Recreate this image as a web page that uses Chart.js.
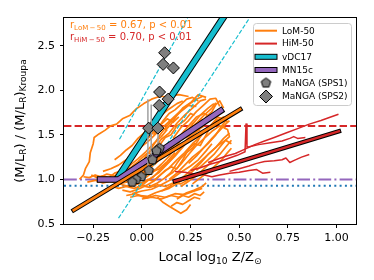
<!DOCTYPE html>
<html>
<head>
<meta charset="utf-8">
<script src="https://cdn.jsdelivr.net/npm/chart.js@4.4.0/dist/chart.umd.min.js"></script>
<style>
  html, body { margin: 0; padding: 0; background: #fff; }
  #wrap { width: 374px; height: 280px; }
</style>
</head>
<body>
<div id="wrap"><canvas id="mlChart" width="374" height="280"></canvas></div>
<script>
// axis ticks
const xTicks = [-0.25, 0, 0.25, 0.5, 0.75, 1.0];
const yTicks = [0.5, 1.0, 1.5, 2.0, 2.5];

// MaNGA points
const sps1X = [0.091, 0.075, 0.054, 0.036, -0.003, -0.03, -0.05];
const sps1Y = [1.35, 1.32, 1.22, 1.10, 1.03, 1.00, 0.97];
const sps2X = [0.117, 0.109, 0.162, 0.091, 0.135, 0.089, 0.035, 0.082];
const sps2Y = [2.42, 2.29, 2.25, 1.98, 1.90, 1.83, 1.575, 1.575];
const errBarX = [0.031, 0.048, 0.083];
const errBarLo = [1.11, 1.19, 1.37];
const errBarHi = [1.90, 1.84, 1.64];

// relations
const vdcBand = [[-0.12, 1.03], [0.42, 2.82]];
const vdcUpper = [[-0.115, 1.45], [0.235, 2.81]];
const vdcLower = [[-0.12, 0.565], [0.55, 2.80]];
const mn15Band = [[-0.215, 1.0], [-0.12, 1.0], [0.405, 1.77]];
const lomFit = [[-0.35, 0.655], [0.505, 1.785]];
const himFit = [[0.17, 0.98], [1.012, 1.54]];
const kroupaRatio = 1.0;
const dottedRatio = 0.93;
const dashedRatio = 1.6;

// radial profiles
const lomProfiles = [
  [[-0.32,1.00],[-0.30,1.05],[-0.29,1.12],[-0.27,1.20],[-0.265,1.30],[-0.25,1.40],[-0.245,1.47],[-0.22,1.51],[-0.19,1.55],[-0.16,1.60],[-0.13,1.62],[-0.10,1.68],[-0.06,1.72],[-0.03,1.79],[0.01,1.85],[0.05,1.90],[0.09,1.93],[0.14,1.93],[0.19,1.95],[0.24,1.93]],
  [[-0.30,1.03],[-0.27,1.02],[-0.24,1.05],[-0.21,1.03],[-0.18,1.06],[-0.14,1.04],[-0.10,1.09],[-0.06,1.13],[-0.02,1.20],[0.02,1.28],[0.06,1.34],[0.10,1.45],[0.14,1.52],[0.18,1.63],[0.22,1.72],[0.26,1.80],[0.30,1.88],[0.33,1.90]],
  [[-0.28,0.97],[-0.24,0.99],[-0.20,0.96],[-0.16,0.98],[-0.12,0.95],[-0.08,0.97],[-0.04,1.00],[0.00,1.06],[0.04,1.12],[0.08,1.20],[0.12,1.27],[0.16,1.36],[0.20,1.46],[0.24,1.55],[0.28,1.63],[0.32,1.72],[0.36,1.80],[0.38,1.86]],
  [[-0.10,0.88],[-0.06,0.86],[-0.02,0.89],[0.02,0.93],[0.06,0.98],[0.10,1.06],[0.14,1.13],[0.18,1.22],[0.22,1.30],[0.26,1.40],[0.30,1.48],[0.34,1.58],[0.38,1.66],[0.42,1.70],[0.44,1.64]],
  [[-0.06,0.80],[-0.02,0.82],[0.03,0.81],[0.07,0.85],[0.11,0.88],[0.15,0.93],[0.19,0.99],[0.23,1.06],[0.27,1.14],[0.31,1.22],[0.35,1.30],[0.39,1.38],[0.43,1.44],[0.46,1.40]],
  [[0.00,0.78],[0.05,0.80],[0.10,0.78],[0.15,0.82],[0.19,0.80],[0.23,0.85],[0.27,0.88],[0.31,0.92],[0.33,0.96]],
  [[-0.20,1.09],[-0.16,1.12],[-0.12,1.16],[-0.08,1.22],[-0.04,1.30],[0.00,1.37],[0.04,1.44],[0.08,1.53],[0.12,1.61],[0.16,1.69],[0.20,1.77],[0.24,1.84],[0.28,1.90],[0.31,1.93]],
  [[-0.14,1.22],[-0.11,1.27],[-0.08,1.33],[-0.05,1.38],[-0.02,1.46],[0.02,1.54],[0.06,1.62],[0.10,1.72],[0.14,1.79],[0.18,1.85],[0.21,1.88]],
  [[0.02,1.02],[0.06,1.09],[0.10,1.17],[0.14,1.26],[0.18,1.38],[0.22,1.50],[0.26,1.62],[0.30,1.72],[0.34,1.80],[0.37,1.85]],
  [[0.04,0.92],[0.08,0.96],[0.12,1.02],[0.16,1.08],[0.20,1.17],[0.24,1.28],[0.28,1.38],[0.32,1.46],[0.36,1.54],[0.40,1.60],[0.43,1.58]],
  [[0.10,0.87],[0.14,0.90],[0.18,0.95],[0.22,1.01],[0.26,1.09],[0.30,1.18],[0.34,1.28],[0.38,1.36],[0.42,1.46],[0.45,1.52]],
  [[-0.12,0.96],[-0.08,0.99],[-0.04,1.04],[0.00,1.10],[0.04,1.18],[0.08,1.26],[0.12,1.35],[0.16,1.43],[0.20,1.50],[0.24,1.60],[0.28,1.70],[0.32,1.74],[0.35,1.70]],
  [[-0.03,0.90],[0.01,0.95],[0.05,1.02],[0.09,1.08],[0.13,1.17],[0.17,1.26],[0.21,1.36],[0.25,1.47],[0.29,1.56],[0.32,1.60]],
  [[-0.26,1.05],[-0.23,1.02],[-0.20,1.04],[-0.17,1.02],[-0.14,1.07],[-0.10,1.10],[-0.06,1.16],[-0.02,1.23],[0.02,1.31],[0.06,1.40],[0.10,1.48],[0.13,1.56]],
  [[0.14,1.00],[0.18,1.07],[0.22,1.16],[0.26,1.25],[0.30,1.32],[0.34,1.40],[0.38,1.50],[0.41,1.60],[0.44,1.68]],
  [[0.04,1.32],[0.07,1.42],[0.10,1.52],[0.13,1.60],[0.16,1.68],[0.20,1.76],[0.24,1.83],[0.28,1.82]],
  [[-0.05,0.84],[0.00,0.87],[0.05,0.89],[0.10,0.94],[0.15,1.00],[0.20,1.08],[0.25,1.15],[0.29,1.22],[0.33,1.32],[0.36,1.40]],
  [[0.16,1.46],[0.20,1.58],[0.24,1.66],[0.28,1.76],[0.32,1.84],[0.35,1.90],[0.38,1.91],[0.40,1.82]],
  [[-0.23,0.97],[-0.19,1.00],[-0.15,1.02],[-0.11,1.00],[-0.07,1.03],[-0.03,1.02],[0.01,1.05],[0.05,1.08],[0.09,1.12],[0.13,1.20],[0.17,1.30]],
  [[0.07,1.18],[0.11,1.28],[0.15,1.36],[0.19,1.46],[0.23,1.53],[0.27,1.60],[0.31,1.67],[0.35,1.66],[0.39,1.74],[0.42,1.77]],
  [[-0.08,0.82],[-0.03,0.84],[0.02,0.79],[0.07,0.82],[0.12,0.80],[0.17,0.84],[0.22,0.83],[0.27,0.87],[0.31,0.90]],
  [[0.20,0.92],[0.24,0.98],[0.28,1.04],[0.32,1.12],[0.36,1.20],[0.40,1.28],[0.43,1.36],[0.46,1.44]],
  [[0.08,0.80],[0.11,0.74],[0.14,0.70],[0.17,0.66],[0.20,0.62],[0.23,0.66],[0.25,0.72]],
  [[0.12,1.55],[0.15,1.62],[0.18,1.72],[0.21,1.80],[0.25,1.86],[0.29,1.95],[0.33,1.92]],
  [[-0.18,0.99],[-0.14,0.97],[-0.10,0.94],[-0.06,0.92],[-0.02,0.95],[0.02,0.98],[0.06,1.03],[0.10,1.12],[0.14,1.20],[0.18,1.30],[0.22,1.40],[0.26,1.50],[0.30,1.56]],
  [[0.24,1.18],[0.28,1.26],[0.32,1.36],[0.36,1.46],[0.40,1.55],[0.43,1.62],[0.45,1.66]],
  [[-0.10,1.05],[-0.07,1.12],[-0.05,1.10],[-0.02,1.18],[0.01,1.22],[0.03,1.30],[0.06,1.28],[0.09,1.38],[0.12,1.47],[0.15,1.50],[0.18,1.60],[0.22,1.66],[0.25,1.74],[0.27,1.72]],
  [[0.00,0.95],[0.03,1.00],[0.06,0.98],[0.09,1.04],[0.12,1.10],[0.15,1.14],[0.18,1.12],[0.21,1.22],[0.24,1.34],[0.27,1.40],[0.30,1.38],[0.33,1.50],[0.36,1.62],[0.39,1.70],[0.41,1.68]],
  [[0.12,1.02],[0.15,1.08],[0.18,1.18],[0.20,1.24],[0.23,1.30],[0.26,1.35],[0.29,1.44],[0.31,1.52],[0.34,1.55],[0.37,1.64],[0.40,1.66]],
  [[-0.16,0.93],[-0.12,0.90],[-0.08,0.92],[-0.04,0.90],[0.00,0.93],[0.04,0.91],[0.08,0.94],[0.12,0.92],[0.16,0.96],[0.20,0.95],[0.24,1.00]],
  [[0.18,0.78],[0.21,0.82],[0.24,0.80],[0.27,0.84],[0.30,0.82],[0.32,0.86]],
  [[0.06,1.50],[0.09,1.60],[0.11,1.66],[0.14,1.74],[0.17,1.78],[0.20,1.84],[0.23,1.90],[0.26,1.92],[0.29,1.88]],
  [[0.22,1.42],[0.25,1.50],[0.27,1.58],[0.30,1.62],[0.33,1.70],[0.36,1.76],[0.38,1.84],[0.40,1.88],[0.42,1.80]],
  [[-0.02,1.36],[0.01,1.42],[0.04,1.48],[0.07,1.56],[0.10,1.62],[0.13,1.68],[0.16,1.64],[0.19,1.70]],
  [[0.28,1.10],[0.31,1.16],[0.34,1.22],[0.37,1.28],[0.40,1.36],[0.43,1.44],[0.45,1.48],[0.44,1.56],[0.42,1.58]],
  [[-0.05,1.00],[-0.02,1.06],[0.02,1.10],[0.05,1.16],[0.08,1.24],[0.11,1.30],[0.14,1.32],[0.17,1.40],[0.20,1.44],[0.23,1.48],[0.26,1.56],[0.29,1.64]],
  [[0.26,0.95],[0.29,1.00],[0.32,1.05],[0.35,1.10],[0.38,1.16],[0.41,1.22],[0.44,1.30],[0.46,1.35]],
  [[0.15,0.70],[0.18,0.74],[0.21,0.72],[0.24,0.76],[0.27,0.80],[0.30,0.78]]
];
const himProfiles = [
  [[0.34,1.19],[0.38,1.22],[0.43,1.26],[0.48,1.29],[0.53,1.34],[0.58,1.39],[0.63,1.43],[0.68,1.47],[0.74,1.52],[0.80,1.57],[0.86,1.62],[0.92,1.66],[0.97,1.70],[1.01,1.73]],
  [[0.25,1.10],[0.30,1.13],[0.35,1.17],[0.40,1.20],[0.45,1.24],[0.49,1.27],[0.53,1.31],[0.535,1.62],[0.54,1.36],[0.60,1.39],[0.66,1.41],[0.72,1.43],[0.76,1.46],[0.78,1.48],[0.80,1.46],[0.84,1.47]],
  [[0.45,1.09],[0.50,1.12],[0.55,1.15],[0.59,1.18],[0.63,1.20],[0.68,1.21],[0.72,1.22],[0.74,1.24],[0.76,1.19],[0.78,1.21],[0.82,1.25],[0.86,1.28]],
  [[0.17,1.09],[0.22,1.08],[0.27,1.06],[0.32,1.05],[0.36,1.03],[0.40,1.05],[0.45,1.07],[0.50,1.08],[0.55,1.10],[0.59,1.11],[0.62,1.07],[0.66,1.08]]
];

const legendLabels = ['LoM-50', 'HiM-50', 'vDC17', 'MN15c', 'MaNGA (SPS1)', 'MaNGA (SPS2)'];
const lomStat = ' = 0.67, p < 0.01';
const himStat = ' = 0.70, p < 0.01';

const ORANGE = '#ff7f0e', RED = '#d62728', CYAN = '#17becf', PURPLE = '#9467bd', BLUE = '#1f77b4', GREY = '#7f7f7f';
const FONT = '"DejaVu Sans", sans-serif';

const pts = arr => arr.map(p => ({ x: p[0], y: p[1] }));

function makePentagon(r) {
  const c = document.createElement('canvas');
  const s = Math.ceil(r * 2 + 3);
  c.width = c.height = s;
  const g = c.getContext('2d');
  g.beginPath();
  for (let i = 0; i < 5; i++) {
    const a = -Math.PI / 2 + i * 2 * Math.PI / 5;
    g.lineTo(s / 2 + r * Math.cos(a), s / 2 + r * Math.sin(a));
  }
  g.closePath();
  g.fillStyle = GREY; g.fill();
  g.strokeStyle = '#000'; g.lineWidth = 1; g.stroke();
  return c;
}
const pentagon = makePentagon(5);

function lineSet(data, color, width, extra) {
  return Object.assign({
    data: data, showLine: true, borderColor: color, backgroundColor: color,
    borderWidth: width, pointRadius: 0, fill: false, clip: 0
  }, extra || {});
}

const datasets = [];
// top-most first
datasets.push({
  data: sps2X.map((x, i) => ({ x: x, y: sps2Y[i] })),
  pointStyle: 'rectRot', pointRadius: 6, backgroundColor: GREY, borderColor: '#000', borderWidth: 1, showLine: false
});
datasets.push({
  data: sps1X.map((x, i) => ({ x: x, y: sps1Y[i] })),
  pointStyle: pentagon, pointRadius: 5, backgroundColor: GREY, borderColor: '#000', showLine: false
});
errBarX.forEach((x, i) => {
  datasets.push(lineSet([{ x: x, y: errBarLo[i] }, { x: x, y: errBarHi[i] }], '#a0a0a0', 1.5));
});
datasets.push(lineSet(pts(lomFit), ORANGE, 2.6, { borderCapStyle: 'square' }));
datasets.push(lineSet(pts(lomFit), '#000', 4.6, { borderCapStyle: 'square' }));
datasets.push(lineSet(pts(himFit), RED, 2.6, { borderCapStyle: 'square' }));
datasets.push(lineSet(pts(himFit), '#000', 4.6, { borderCapStyle: 'square' }));
datasets.push(lineSet(pts(mn15Band), PURPLE, 4.5, { borderCapStyle: 'square', borderJoinStyle: 'round' }));
datasets.push(lineSet(pts(mn15Band), '#000', 6.5, { borderCapStyle: 'square', borderJoinStyle: 'round' }));
datasets.push(lineSet(pts(vdcBand), CYAN, 5, { borderCapStyle: 'square' }));
datasets.push(lineSet(pts(vdcBand), '#000', 7, { borderCapStyle: 'square' }));
datasets.push(lineSet(pts(vdcUpper), CYAN, 1.2, { borderDash: [4.4, 1.9] }));
datasets.push(lineSet(pts(vdcLower), CYAN, 1.2, { borderDash: [4.4, 1.9] }));
himProfiles.forEach(p => datasets.push(lineSet(pts(p), RED, 1.5, { borderJoinStyle: 'round' })));
lomProfiles.forEach(p => datasets.push(lineSet(pts(p), ORANGE, 1.7, { borderJoinStyle: 'round' })));
datasets.push(lineSet([{ x: -0.4, y: dashedRatio }, { x: 1.1, y: dashedRatio }], RED, 2, { borderDash: [7.4, 3.2] }));
datasets.push(lineSet([{ x: -0.4, y: kroupaRatio }, { x: 1.1, y: kroupaRatio }], PURPLE, 2, { borderDash: [12.8, 3.2, 2, 3.2] }));
datasets.push(lineSet([{ x: -0.4, y: dottedRatio }, { x: 1.1, y: dottedRatio }], BLUE, 2, { borderDash: [2, 3.3] }));

function drawRich(ctx, parts, x, y, size, color, align) {
  let w = 0;
  parts.forEach(([t, sub]) => { ctx.font = (sub ? size * 0.7 : size) + 'px ' + FONT; w += ctx.measureText(t).width; });
  let cx = align === 'center' ? x - w / 2 : x;
  ctx.fillStyle = color;
  ctx.textAlign = 'left';
  ctx.textBaseline = 'alphabetic';
  parts.forEach(([t, sub]) => {
    ctx.font = (sub ? size * 0.7 : size) + 'px ' + FONT;
    ctx.fillText(t, cx, y + (sub ? size * 0.22 : 0));
    cx += ctx.measureText(t).width;
  });
}

const overlay = {
  id: 'overlay',
  afterDatasetsDraw(chart) {
    const { ctx, chartArea: a } = chart;
    ctx.save();
    // spines
    ctx.strokeStyle = '#000';
    ctx.lineWidth = 1;
    ctx.strokeRect(a.left - 0.5, a.top - 0.5, a.right - a.left + 1, a.bottom - a.top + 1);

    // correlation notes
    drawRich(ctx, [['r', 0], ['LoM\u2009\u2212\u200950', 1], [lomStat, 0]], 70, 28, 10, ORANGE);
    drawRich(ctx, [['r', 0], ['HiM\u2009\u2212\u200950', 1], [himStat, 0]], 70, 39.5, 10, RED);

    // legend
    const bx = 253, by = 23, bw = 98, bh = 82;
    ctx.beginPath();
    ctx.roundRect(bx + 0.5, by + 0.5, bw, bh, 3);
    ctx.fillStyle = 'rgba(255,255,255,0.8)';
    ctx.fill();
    ctx.strokeStyle = '#cccccc';
    ctx.lineWidth = 1;
    ctx.stroke();
    const rows = [30.7, 43.6, 56.8, 70, 83, 96.5];
    const hx0 = 255, hx1 = 277;
    [ORANGE, RED].forEach((c, i) => {
      ctx.beginPath(); ctx.moveTo(hx0, rows[i]); ctx.lineTo(hx1, rows[i]);
      ctx.strokeStyle = c; ctx.lineWidth = 2; ctx.stroke();
    });
    [CYAN, PURPLE].forEach((c, i) => {
      const yc = rows[i + 2];
      ctx.fillStyle = c;
      ctx.fillRect(hx0, yc - 2.5, hx1 - hx0, 5);
      ctx.strokeStyle = '#000'; ctx.lineWidth = 1;
      ctx.strokeRect(hx0, yc - 2.5, hx1 - hx0, 5);
    });
    ctx.drawImage(pentagon, 266 - pentagon.width / 2, rows[4] - pentagon.height / 2);
    ctx.beginPath();
    ctx.moveTo(266, rows[5] - 6.5); ctx.lineTo(272.5, rows[5]); ctx.lineTo(266, rows[5] + 6.5); ctx.lineTo(259.5, rows[5]);
    ctx.closePath();
    ctx.fillStyle = GREY; ctx.fill(); ctx.strokeStyle = '#000'; ctx.lineWidth = 1; ctx.stroke();
    ctx.font = '9px ' + FONT;
    ctx.fillStyle = '#000';
    ctx.textAlign = 'left';
    ctx.textBaseline = 'middle';
    legendLabels.forEach((t, i) => ctx.fillText(t, 282, rows[i] + 0.5));

    // axis titles
    drawRich(ctx, [['Local log', 0], ['10', 1], [' Z/Z', 0], ['\u2299', 1]], (a.left + a.right) / 2, 261, 13, '#000', 'center');
    ctx.translate(23.5, (a.top + a.bottom) / 2);
    ctx.rotate(-Math.PI / 2);
    drawRich(ctx, [['(M/L', 0], ['R', 1], [') / (M/L', 0], ['R', 1], [')', 0], ['Kroupa', 1]], 0, 0, 13, '#000', 'center');
    ctx.restore();
  }
};

const tickFont = { family: FONT, size: 11 };
new Chart(document.getElementById('mlChart'), {
  type: 'scatter',
  data: { datasets: datasets },
  options: {
    responsive: false,
    animation: false,
    events: [],
    layout: { padding: { top: 18, right: 18, left: 0, bottom: 0 } },
    plugins: { legend: { display: false }, tooltip: { enabled: false } },
    scales: {
      x: {
        type: 'linear', min: -0.4, max: 1.1,
        afterBuildTicks: s => { s.ticks = xTicks.map(v => ({ value: v })); },
        afterFit: s => { s.height = 56; },
        grid: { drawOnChartArea: false, drawTicks: true, tickLength: 4, tickColor: '#000', tickWidth: 1 },
        border: { display: false },
        ticks: {
          color: '#000', font: tickFont, padding: 4, maxRotation: 0, autoSkip: false,
          callback: v => (v < 0 ? '\u2212' : '') + Math.abs(v).toFixed(2)
        }
      },
      y: {
        type: 'linear', min: 0.5, max: 2.81,
        afterBuildTicks: s => { s.ticks = yTicks.map(v => ({ value: v })); },
        afterFit: s => { s.width = 64; },
        grid: { drawOnChartArea: false, drawTicks: true, tickLength: 4, tickColor: '#000', tickWidth: 1 },
        border: { display: false },
        ticks: {
          color: '#000', font: tickFont, padding: 5, autoSkip: false,
          callback: v => v.toFixed(1)
        }
      }
    }
  },
  plugins: [overlay]
});
</script>
</body>
</html>
